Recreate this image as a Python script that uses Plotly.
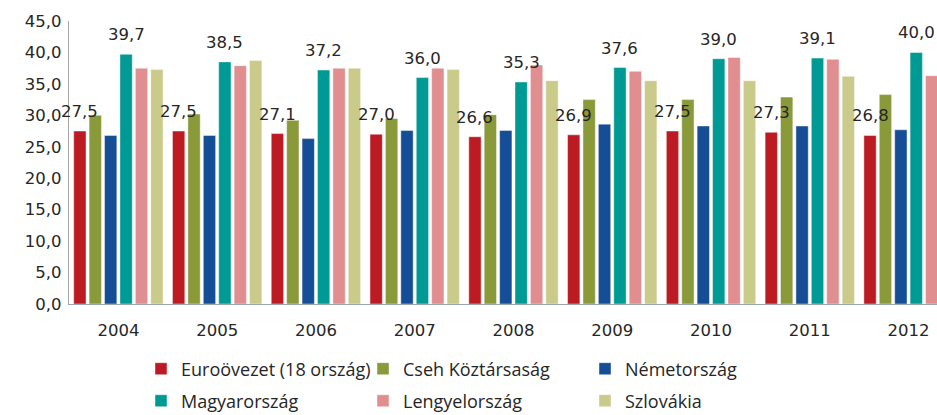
import plotly.graph_objects as go

years = ["2004", "2005", "2006", "2007", "2008", "2009", "2010", "2011", "2012"]
series_names = ["Euroövezet (18 ország)", "Cseh Köztársaság", "Németország",
                "Magyarország", "Lengyelország", "Szlovákia"]
euro = [27.5, 27.5, 27.1, 27.0, 26.6, 26.9, 27.5, 27.3, 26.8]
cseh = [30.0, 30.2, 29.2, 29.5, 30.1, 32.5, 32.5, 32.9, 33.3]
nemet = [26.8, 26.8, 26.3, 27.6, 27.6, 28.6, 28.3, 28.3, 27.7]
magyar = [39.7, 38.5, 37.2, 36.0, 35.3, 37.6, 39.0, 39.1, 40.0]
lengyel = [37.5, 37.9, 37.5, 37.5, 38.0, 37.0, 39.2, 38.9, 36.3]
szlovak = [37.3, 38.7, 37.5, 37.3, 35.5, 35.5, 35.5, 36.2, None]
labelled = [0, 3]  # series with data labels
colors = ["#BD1B23", "#8A993A", "#154E96", "#009A94", "#E08E90", "#CACA8A"]

values = [euro, cseh, nemet, magyar, lengyel, szlovak]

W, H = 937, 415
ML, MR, MT, MB = 69, 0, 21, 111
BARGAP = 0.064
XRANGE = [-0.5, 8.288]

fig = go.Figure()
for i, (name, vals, col) in enumerate(zip(series_names, values, colors)):
    fig.add_trace(go.Bar(
        x=years, y=vals, name=name,
        marker=dict(color=col, line=dict(color="rgba(255,255,255,0.55)", width=0.8)),
        legend="legend" if i < 3 else "legend2",
        hoverinfo="skip",
    ))

plot_w = W - ML - MR
cat_px = plot_w / (XRANGE[1] - XRANGE[0])
pitch = cat_px * (1 - BARGAP) / 6
annotations = []
for i in labelled:
    for j, v in enumerate(values[i]):
        if v is None:
            continue
        annotations.append(dict(
            x=j, y=v, xref="x", yref="y",
            text=f"{v:.1f}".replace(".", ","),
            showarrow=False, yanchor="bottom", xanchor="center",
            xshift=(i - 2.5) * pitch, yshift=8,
            font=dict(family="DejaVu Sans", size=16.5, color="#262626"),
        ))

legend_common = dict(
    orientation="h", xref="paper", yref="container",
    entrywidth=177, entrywidthmode="pixels",
    font=dict(family="Open Sans", size=18, color="#262626"),
    bgcolor="rgba(0,0,0,0)", borderwidth=0,
    itemclick=False, itemdoubleclick=False,
    xanchor="left", yanchor="middle",
)

fig.update_layout(
    width=W, height=H,
    margin=dict(l=ML, r=MR, t=MT, b=MB),
    paper_bgcolor="white", plot_bgcolor="white",
    barmode="group", bargap=BARGAP, bargroupgap=0.2,
    separators=",.",
    showlegend=True,
    legend=dict(legend_common, x=(141 - ML) / plot_w, y=1 - 369 / H),
    legend2=dict(legend_common, x=(141 - ML) / plot_w, y=1 - 401 / H),
    xaxis=dict(
        type="category", range=XRANGE,
        showline=True, linecolor="#9aa6ad", linewidth=1.2,
        ticks="", showgrid=False, zeroline=False,
        tickfont=dict(family="DejaVu Sans", size=16.5, color="#262626"),
        ticklabelstandoff=11,
    ),
    yaxis=dict(
        range=[0, 45], dtick=5, tickformat=".1f",
        showline=True, linecolor="#a6a6a6", linewidth=1.2,
        ticks="", showgrid=False, zeroline=False,
        tickfont=dict(family="DejaVu Sans", size=16.5, color="#262626"),
        ticklabelstandoff=3,
    ),
    annotations=annotations,
)

fig.write_html("out.html", config={"displayModeBar": False},
               post_script="document.body.style.margin='0';")
